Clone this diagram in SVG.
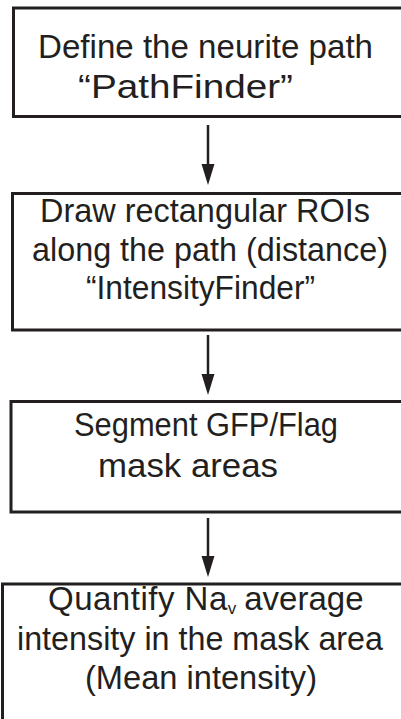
<svg xmlns="http://www.w3.org/2000/svg" width="401" height="719" viewBox="0 0 401 719">
<style>
.box{fill:#fff;stroke:#231f20;stroke-width:3}
.t{font-family:"Liberation Sans","Open Sans",sans-serif;font-size:33px;fill:#231f20}
.shaft{stroke:#231f20;stroke-width:2.5}
.head{fill:#231f20}
</style>
<rect width="401" height="719" fill="#fff"/>
<g id="connectors">
<line class="shaft" x1="208" y1="125" x2="208" y2="170"/>
<polygon class="head" points="201.5,164 214.5,164 208,185"/>
<line class="shaft" x1="208" y1="335" x2="208" y2="380"/>
<polygon class="head" points="201.5,374 214.5,374 208,395"/>
<line class="shaft" x1="208" y1="518" x2="208" y2="562"/>
<polygon class="head" points="201.5,556 214.5,556 208,577"/>
</g>
<g id="node1">
<rect class="box" x="13.5" y="8" width="400" height="108.5"/>
<text class="t" x="38" y="58" textLength="335" lengthAdjust="spacingAndGlyphs">Define the neurite path</text>
<text class="t" x="78" y="98" textLength="215" lengthAdjust="spacingAndGlyphs">“PathFinder”</text>
</g>
<g id="node2">
<rect class="box" x="12.5" y="193.5" width="400" height="136.5"/>
<text class="t" x="40" y="222" textLength="330" lengthAdjust="spacingAndGlyphs">Draw rectangular ROIs</text>
<text class="t" x="32" y="261" textLength="356" lengthAdjust="spacingAndGlyphs">along the path (distance)</text>
<text class="t" x="86" y="299" textLength="229" lengthAdjust="spacingAndGlyphs">“IntensityFinder”</text>
</g>
<g id="node3">
<rect class="box" x="11" y="401.5" width="400" height="110.5"/>
<text class="t" x="74" y="436" textLength="264" lengthAdjust="spacingAndGlyphs">Segment GFP/Flag</text>
<text class="t" x="98" y="477" textLength="180" lengthAdjust="spacingAndGlyphs">mask areas</text>
</g>
<g id="node4">
<rect class="box" x="2.5" y="584" width="410" height="200"/>
<text class="t" x="48" y="610" letter-spacing="0.5">Quantify Na<tspan font-size="17" dy="4" letter-spacing="0">v</tspan><tspan dy="-4" dx="8" letter-spacing="0">average</tspan></text>
<text class="t" x="17" y="650" textLength="366" lengthAdjust="spacingAndGlyphs">intensity in the mask area</text>
<text class="t" x="85" y="689" textLength="232" lengthAdjust="spacingAndGlyphs">(Mean intensity)</text>
</g>
</svg>
